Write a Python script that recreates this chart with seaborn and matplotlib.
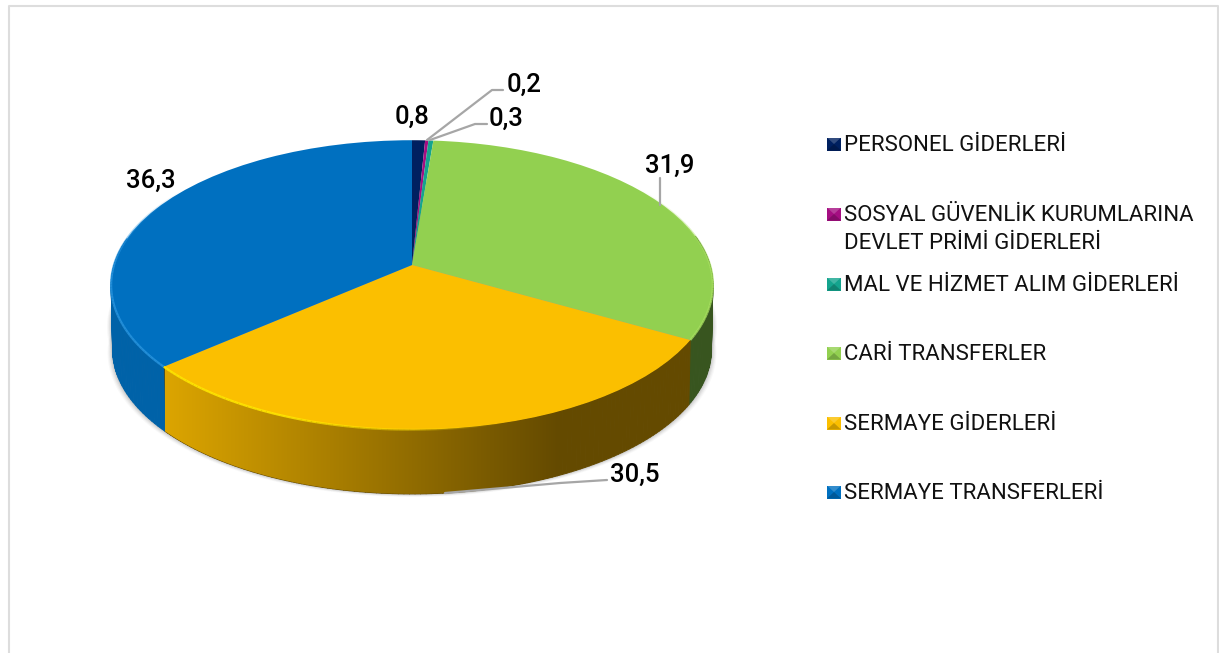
import numpy as np
import seaborn as sns
import matplotlib.pyplot as plt
from matplotlib.collections import LineCollection, PolyCollection
from matplotlib.colors import LinearSegmentedColormap, to_rgb
from matplotlib.patches import Polygon, Rectangle
from matplotlib.transforms import Transform

categories = ['PERSONEL GİDERLERİ', 'SOSYAL GÜVENLİK KURUMLARINA\nDEVLET PRİMİ GİDERLERİ',
              'MAL VE HİZMET ALIM GİDERLERİ', 'CARİ TRANSFERLER', 'SERMAYE GİDERLERİ', 'SERMAYE TRANSFERLERİ']
values = [0.8, 0.2, 0.3, 31.9, 30.5, 36.3]
value_labels = ['0,8', '0,2', '0,3', '31,9', '30,5', '36,3']
colors = ['#002060', '#A50E82', '#14A48E', '#92D050', '#FBBF00', '#0070C0']
side_left = ['#001a4d', '#7a0a60', '#0e7a6a', '#38551F', '#DCA500', '#0062A8']
side_right = ['#001a4d', '#7a0a60', '#0e7a6a', '#38551F', '#644A00', '#0062A8']
rim_colors = ['#002060', '#A50E82', '#14A48E', '#A8E060', '#FFE600', '#2A96E0']

label_pos = [(412, 117), (524, 85), (506, 119), (670, 166), (635, 475), (151, 181)]
legend_y = [144, 214, 284, 353, 423, 492]

CX, CY = 412, 265
K, A, B = 0.138, 298, 142
DEPTH = 65


# circle seen from above, the far side shrinks a little
class Tilt(Transform):
    input_dims = output_dims = 2

    def __init__(self, drop=0, scale=1.0):
        super().__init__()
        self.drop = drop
        self.scale = scale

    def transform_non_affine(self, xy):
        xy = np.asarray(xy, dtype=float)
        w = 1 + K * xy[:, 1]
        return np.column_stack([CX + self.scale * A * xy[:, 0] / w,
                                CY + self.drop - self.scale * B * xy[:, 1] / w])


sns.set_theme(style='white')
plt.rcParams['font.family'] = ['Roboto', 'DejaVu Sans']
palette = sns.color_palette(colors)

fig = plt.figure(figsize=(12.19, 6.53), dpi=100)
ax = fig.add_axes([0, 0, 1, 1])

top = Tilt()
bottom = Tilt(DEPTH, 0.995)


def arc(t1, t2, n=120):
    t = np.radians(np.linspace(t1, t2, n))
    return np.column_stack([np.cos(t), np.sin(t)])


wedges, _ = ax.pie(values, colors=palette, startangle=90, counterclock=False, radius=1,
                   wedgeprops={'linewidth': 0})
for w in wedges:
    w.set_transform(top + ax.transData)
    w.set_zorder(5)

ax.set_aspect('auto')

# soft shadow under the base, also up the sides
rim = bottom.transform(arc(0, 360, 240))
mid = Tilt(DEPTH * 0.6, 0.997).transform(arc(0, 360, 240))
for grow, alpha in [(5, 0.04), (4, 0.05), (3, 0.07), (2, 0.09), (1, 0.12)]:
    for src in (rim, mid):
        pts = src.copy()
        pts[:, 0] = CX + (pts[:, 0] - CX) * (1 + grow / 298)
        pts[:, 1] = pts[:, 1] + grow * 0.6
        ax.add_patch(Polygon(pts, closed=True, fc='#555555', ec='none', alpha=alpha, zorder=1))

# sides, one quad per arc step so the outline stays straight at the far left and right
grad = np.linspace(0, 1, 256).reshape(1, -1)
for i, w in enumerate(wedges):
    pts = arc(w.theta1, w.theta2)
    upper_pts, lower_pts = top.transform(pts), bottom.transform(pts)
    # the far half is hidden behind the top face
    quads = [[upper_pts[j], upper_pts[j + 1], lower_pts[j + 1], lower_pts[j]]
             for j in range(len(pts) - 1) if pts[j, 1] < 0.2]
    if quads:
        ax.add_collection(PolyCollection(quads, facecolors=side_right[i], edgecolors=side_right[i],
                                         linewidths=0.7, zorder=1.5))
    if side_left[i] != side_right[i]:
        clip = Polygon(np.vstack([upper_pts, lower_pts[::-1]]), closed=True, transform=ax.transData)
        cmap = LinearSegmentedColormap.from_list('side', [side_left[i], side_right[i]])
        im = ax.imshow(grad, cmap=cmap, extent=(165, 560, 653, 0), aspect='auto', zorder=2)
        im.set_clip_path(clip)
ax.set_xlim(0, 1219)
ax.set_ylim(653, 0)

# lit edge of the top face, only on the near side
for i, w in enumerate(wedges):
    pts = top.transform(arc(w.theta1, w.theta2))
    segs = np.stack([pts[:-1], pts[1:]], axis=1)
    rgba = np.ones((len(segs), 4))
    rgba[:, :3] = to_rgb(rim_colors[i])
    rgba[:, 3] = np.clip((segs[:, 0, 1] - 190) / 100, 0, 0.8)
    if i == 4:
        rgba[:, 3] = np.clip((500 - segs[:, 0, 0]) / 250, 0, 0.9)
    ax.add_collection(LineCollection(segs, colors=rgba, linewidths=1.6, zorder=6))

# leader lines
line_kw = dict(color='#A6A6A6', lw=1.6, zorder=7, solid_capstyle='round')
ax.plot([427, 492, 503], [140, 90, 90], **line_kw)
ax.plot([430, 475, 487], [140, 124, 124], **line_kw)
ax.plot([445, 560, 607], [493, 483, 480], **line_kw)
ax.plot([660, 660], [178, 205], **line_kw)

for (x, y), txt in zip(label_pos, value_labels):
    ax.text(x, y, txt, ha='center', va='center', fontsize=18.5, fontweight='medium', color='black', zorder=8)

# legend
for y, name, c in zip(legend_y, categories, palette):
    ax.add_patch(Rectangle((827, y - 6.5), 14, 13, fc=c, ec='none', zorder=5))
    ax.add_patch(Polygon([(827, y - 6.5), (841, y - 6.5), (834, y)], fc='white', ec='none', alpha=0.2, zorder=6))
    ax.add_patch(Polygon([(827, y + 6.5), (841, y + 6.5), (834, y)], fc='black', ec='none', alpha=0.2, zorder=6))
    ax.text(843.5, y - 9, name, ha='left', va='top', fontsize=16, color='#111111', linespacing=1.42, zorder=8)

# chart frame
frame = dict(color='#DDDDDD', lw=1.5, zorder=3)
ax.plot([9, 9, 1218, 1218], [653, 6, 6, 653], **frame)

ax.axis('off')
fig.savefig('out.png', dpi=100, facecolor='white')
